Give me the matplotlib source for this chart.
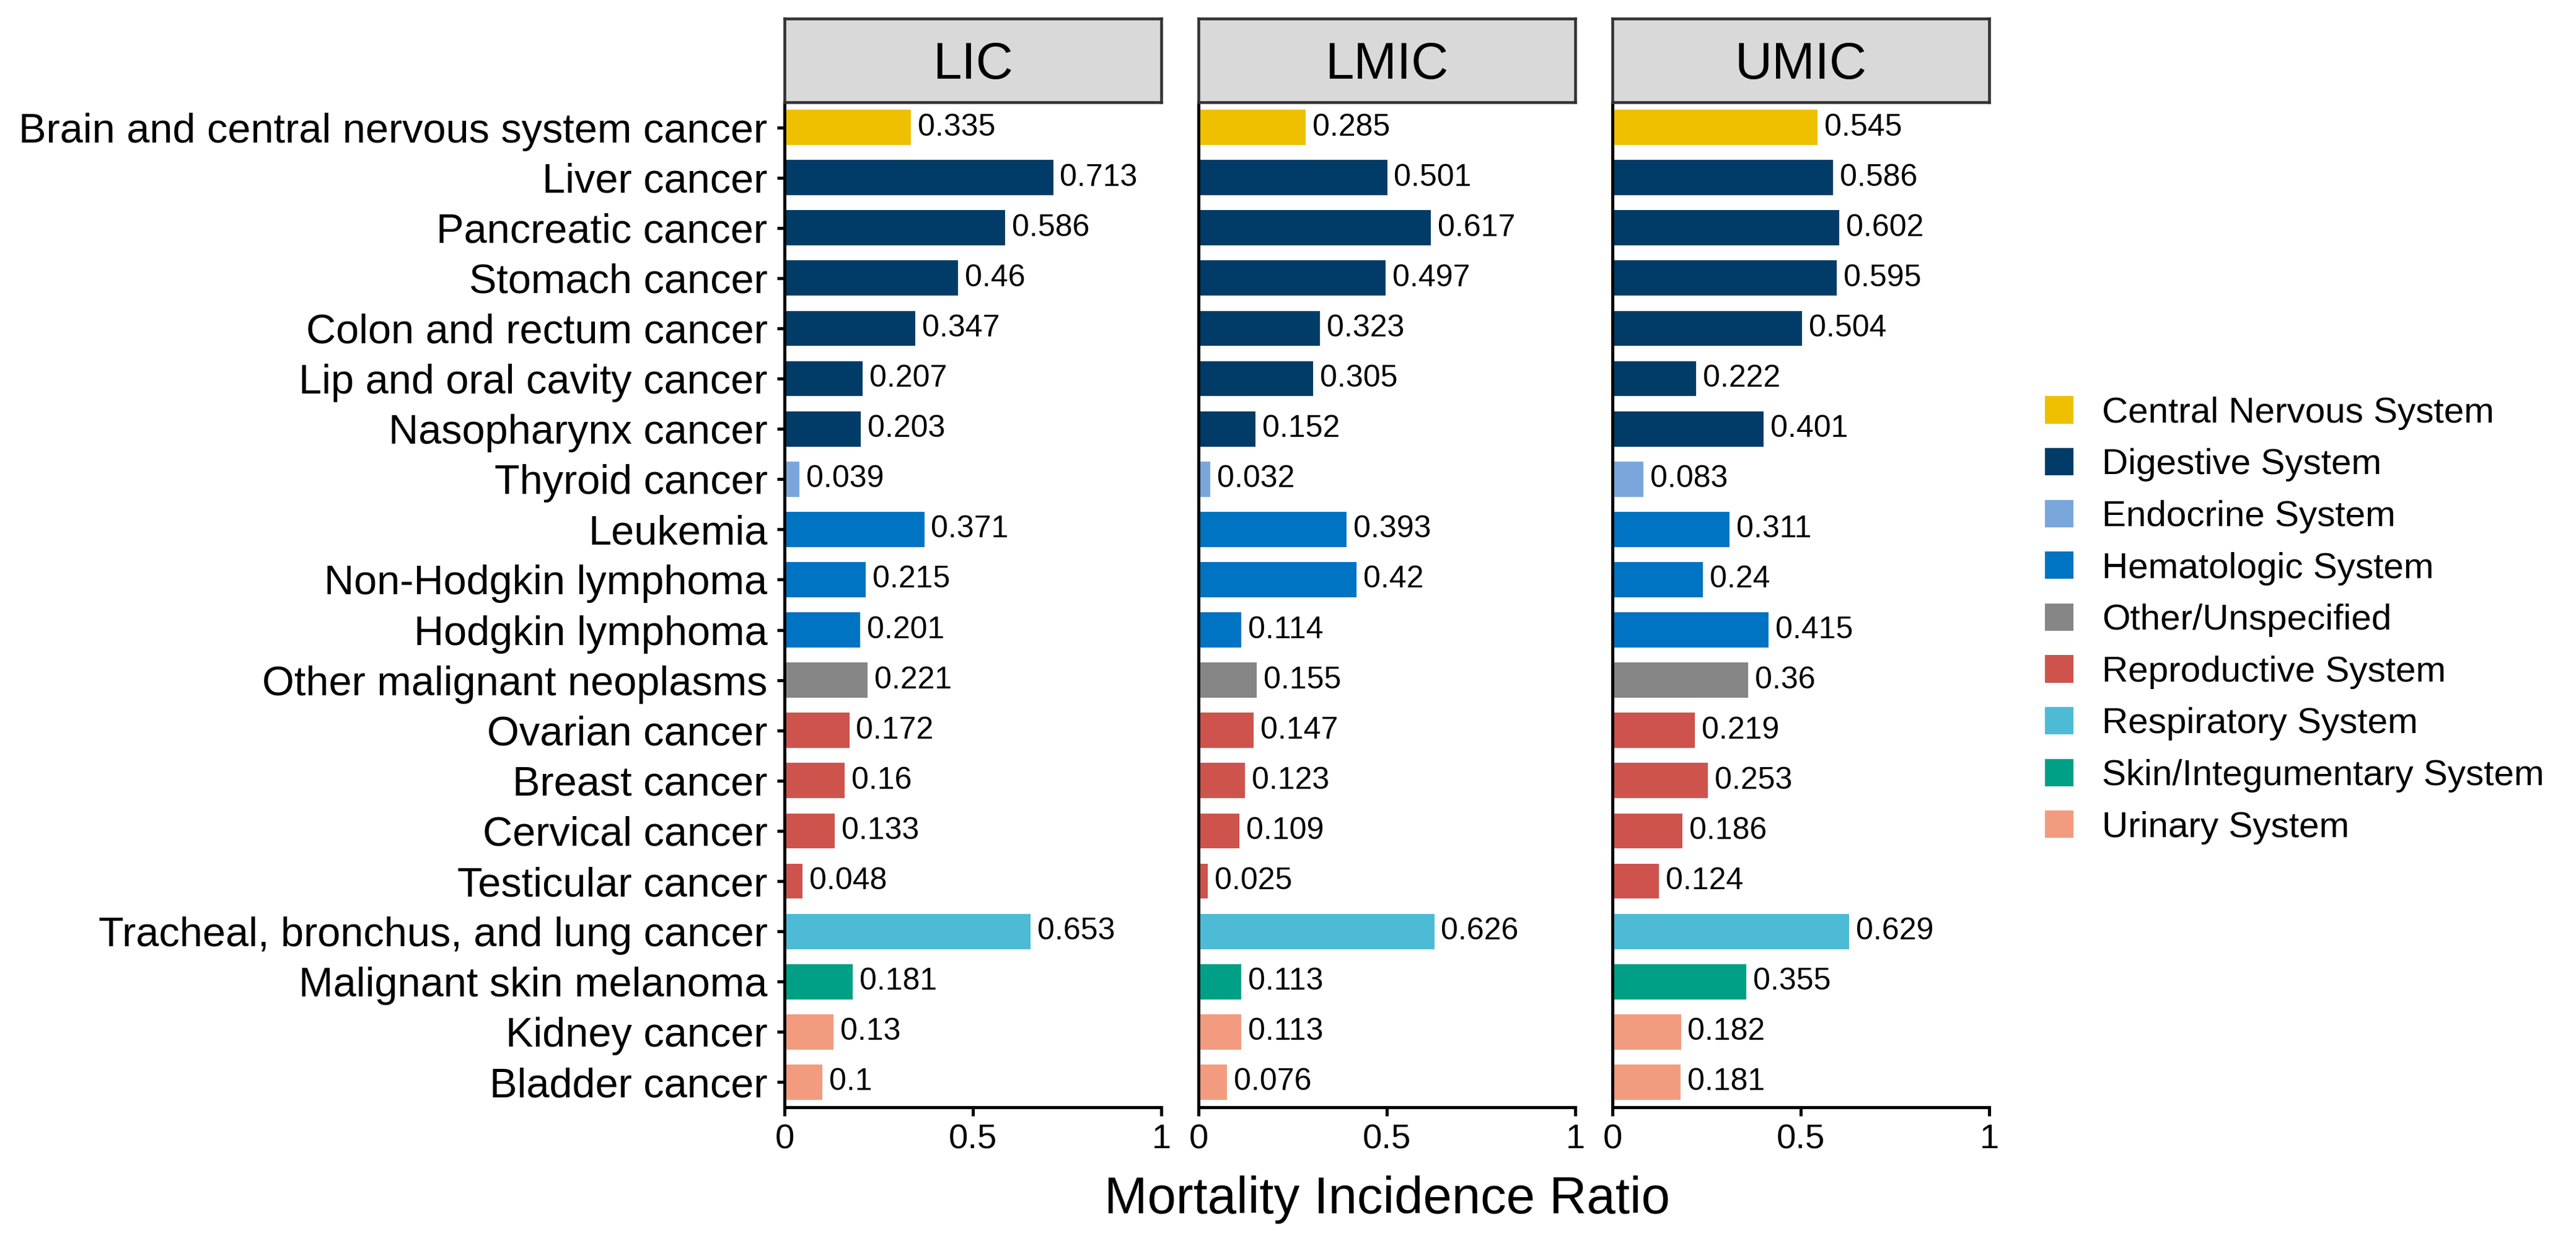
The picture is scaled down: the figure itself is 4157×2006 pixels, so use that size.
import matplotlib
matplotlib.use('Agg')
import matplotlib.pyplot as plt
from matplotlib.patches import Patch
import numpy as np

plt.rcParams['font.family'] = ['Liberation Sans', 'DejaVu Sans']

categories = [
    "Brain and central nervous system cancer", "Liver cancer", "Pancreatic cancer",
    "Stomach cancer", "Colon and rectum cancer", "Lip and oral cavity cancer",
    "Nasopharynx cancer", "Thyroid cancer", "Leukemia", "Non-Hodgkin lymphoma",
    "Hodgkin lymphoma", "Other malignant neoplasms", "Ovarian cancer", "Breast cancer",
    "Cervical cancer", "Testicular cancer", "Tracheal, bronchus, and lung cancer",
    "Malignant skin melanoma", "Kidney cancer", "Bladder cancer",
]
systems = [
    "Central Nervous System", "Digestive System", "Digestive System", "Digestive System",
    "Digestive System", "Digestive System", "Digestive System", "Endocrine System",
    "Hematologic System", "Hematologic System", "Hematologic System", "Other/Unspecified",
    "Reproductive System", "Reproductive System", "Reproductive System", "Reproductive System",
    "Respiratory System", "Skin/Integumentary System", "Urinary System", "Urinary System",
]
lic = [0.335, 0.713, 0.586, 0.46, 0.347, 0.207, 0.203, 0.039, 0.371, 0.215,
       0.201, 0.221, 0.172, 0.16, 0.133, 0.048, 0.653, 0.181, 0.13, 0.1]
lmic = [0.285, 0.501, 0.617, 0.497, 0.323, 0.305, 0.152, 0.032, 0.393, 0.42,
        0.114, 0.155, 0.147, 0.123, 0.109, 0.025, 0.626, 0.113, 0.113, 0.076]
umic = [0.545, 0.586, 0.602, 0.595, 0.504, 0.222, 0.401, 0.083, 0.311, 0.24,
        0.415, 0.36, 0.219, 0.253, 0.186, 0.124, 0.629, 0.355, 0.182, 0.181]
panels = ["LIC", "LMIC", "UMIC"]
system_order = [
    "Central Nervous System", "Digestive System", "Endocrine System", "Hematologic System",
    "Other/Unspecified", "Reproductive System", "Respiratory System",
    "Skin/Integumentary System", "Urinary System",
]
system_colors = {
    "Central Nervous System": "#EFC000",
    "Digestive System": "#003C67",
    "Endocrine System": "#7AA6DC",
    "Hematologic System": "#0073C2",
    "Other/Unspecified": "#868686",
    "Reproductive System": "#CD534C",
    "Respiratory System": "#4DBBD5",
    "Skin/Integumentary System": "#00A087",
    "Urinary System": "#F39B7F",
}

W, H, DPI = 4157, 2006, 300
fig = plt.figure(figsize=(W / DPI, H / DPI), dpi=DPI)


def fx(px):
    return px / W


def fy(py):
    return 1 - py / H


lefts = [1266, 1934, 2602]
pw = 608
top, bottom, strip_top = 165, 1787, 30

y = np.arange(len(categories))
colors = [system_colors[s] for s in systems]

for i, (name, vals) in enumerate(zip(panels, [lic, lmic, umic])):
    ax = fig.add_axes([fx(lefts[i]), fy(bottom), pw / W, (bottom - top) / H])
    bars = ax.barh(y, vals, height=0.7, color=colors, edgecolor='none')
    ax.bar_label(bars, labels=[f"{v:g}" for v in vals], padding=2.6, fontsize=12)
    ax.set_xlim(0, 1)
    ax.set_ylim(len(categories) - 0.5, -0.5)
    for s in ['top', 'right']:
        ax.spines[s].set_visible(False)
    for s in ['left', 'bottom']:
        ax.spines[s].set_linewidth(1.2)
        ax.spines[s].set_color('black')
    ax.set_xticks([0, 0.5, 1])
    ax.set_xticklabels(['0', '0.5', '1'])
    ax.tick_params(axis='x', length=3.3, width=1.2, labelsize=13.5, pad=3)
    if i == 0:
        ax.set_yticks(y)
        ax.set_yticklabels(categories)
        ax.tick_params(axis='y', length=3, width=1.2, labelsize=16, pad=3.6)
    else:
        ax.set_yticks(y)
        ax.tick_params(axis='y', left=False, labelleft=False)

    sax = fig.add_axes([fx(lefts[i]), fy(top), pw / W, (top - strip_top) / H])
    sax.set_facecolor('#D9D9D9')
    sax.set_xticks([])
    sax.set_yticks([])
    for s in sax.spines.values():
        s.set_color('#333333')
        s.set_linewidth(1.1)
    sax.text(fx(lefts[i] + pw / 2), fy(127), name, ha='center', va='baseline',
             fontsize=20, transform=fig.transFigure)

fig.text(fx(2238), fy(1958), 'Mortality Incidence Ratio', ha='center',
         va='baseline', fontsize=20)

handles = [Patch(facecolor=system_colors[s], edgecolor='none', label=s)
           for s in system_order]
fig.legend(handles=handles, loc='center left', bbox_to_anchor=(fx(3300), fy(1001)),
           frameon=False, fontsize=14, handlelength=0.79, handleheight=0.79,
           handletextpad=0.79, labelspacing=0.5, borderpad=0, borderaxespad=0)

fig.savefig('out.png', dpi=DPI)
